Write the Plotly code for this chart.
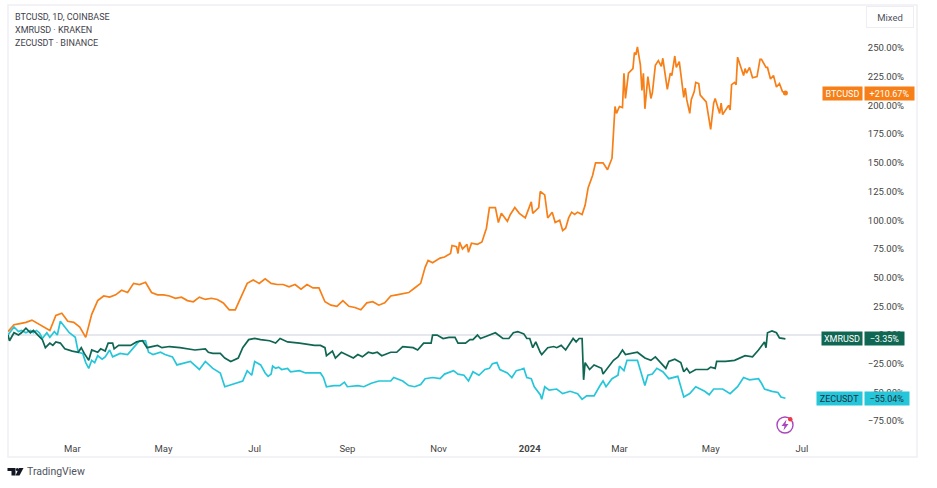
import pandas as pd
import plotly.graph_objects as go

W, H = 937, 488
START = pd.Timestamp("2023-01-17")

btc_days = list(range(0, 280, 4)) + [279,281,284,289,292,296,297,300,301,302,304,307,308,310,314,317,320,322,326,328,330,334,336,339,342,346,350,351,355,356,359,361,364,366,369,371,373,375,377,379,381,384,386,388,391,393,398,401,404,406,407,409,411,412,413,415,418,419,420,421,423,424,425,426,428,430,431,433,435,437,438,441,443,444,446,447,449,452,453,454,456,457,459,460,462,463,467,468,470,472,473,476,477,478,482,483,484,486,487,488,492,493,494,496,498,501,503,504,507,508,510,512,514,516,518,520]
btc_vals = [3,9,10,11,13,10,7,4,17,19,12,11,7,-2,18,30,34,33,35,39,37,45,44,46,37,35,35,34,32,33,30,29,33,31,32,31,28,22,22,34,45,48,45,49,45,44,44,42,44,40,44,41,41,29,26,25,30,25,24,22,28,29,26,28,34,35,36,37,41,45,
59,65,63,67,68,71,78,77,71,81,75,79,72,80,79,81,93,111,111,98,106,99,105,111,106,102,116,106,111,125,122,102,107,98,100,91,93,102,107,105,107,105,113,128,139,150,150,144,154,199,193,199,198,228,206,228,232,246,244,251,235,213,228,197,225,206,211,235,239,234,241,214,228,226,243,233,238,207,215,205,193,205,212,220,219,209,203,196,179,202,206,193,202,192,200,196,218,220,218,242,226,232,228,233,224,225,240,240,233,233,223,226,216,219,212,210.67]

xmr_days = [0,1,4,7,9,12,15,17,20,23,25,28,30,32,35,38,43,47,49,51,54,56,60,62,65,67,70,71,74,78,82,86,90,93,96,100,103,108,115,125,132,134,137,142,145,149,154,157,161,165,169,175,179,182,187,195,205,209,212,213,217,219,223,229,231,234,237,241,244,247,250,256,260,264,271,274,278,283,284,287,291,295,299,301,306,309,311,314,316,320,326,331,335,338,341,343,345,347,349,351,353,356,357,361,365,367,370,373,376,378,380,382,384,385,386,389,392,397,398,401,405,408,411,413,417,421,426,430,433,436,440,442,446,450,452,454,456,460,465,468,470,473,474,480,486,493,498,502,506,507,508,511,514,516,520]
xmr_vals = [0,-5,2,0,2,6,2,4,0,-4,-11,-7,-9,-6,-7,-12,-14,-15,-11,-16,-22,-13,-15,-12,-14,-7,-7,-12,-9,-9,-9,-6,-5,-11,-10,-9,-11,-10,-11,-13,-12,-15,-16,-16,-20,-23,-20,-11,-4,-3,-4,-5,-7,-3,-6,-7,-9,-9,-11,-18,-14,-20,-15,-19,-20,-17,-19,-15,-16,-15,-18,-15,-15,-10,-11,-13,-7,-7,0,0,-3,-2,-2,-7,-7,-4,-4,0,-3,-1,2,-3,-3,2,3,2,1,-3,-3,-11,-6,-15,-17,-11,-10,-11,-9,-13,-7,-3,-6,-3,-3,-39,-24,-30,-26,-29,-34,-29,-22,-19,-13,-17,-16,-15,-20,-22,-19,-23,-29,-23,-21,-24,-32,-29,-33,-30,-30,-30,-28,-29,-23,-23,-22,-18,-19,-13,-6,-11,2,3.5,2,-2.5,-3.35]

zec_days = [0,4,7,9,12,15,17,19,21,23,26,28,31,33,35,38,41,45,47,50,52,54,56,58,60,63,65,68,70,75,80,84,88,92,94,97,102,105,110,113,122,128,132,137,142,145,152,157,160,163,165,169,172,174,176,177,179,181,183,187,189,195,199,209,211,213,218,222,225,227,234,238,243,248,256,258,264,268,272,276,279,284,289,292,298,301,305,308,311,315,319,322,324,327,329,334,337,340,343,345,347,350,352,356,357,359,362,367,371,376,381,384,387,392,396,398,400,404,408,409,412,414,421,425,426,428,431,434,438,442,448,452,456,460,466,469,472,478,483,488,492,496,502,504,506,511,515,517,520]
zec_vals = [0,7,3,4,2,4,2,4,2,-3,2,-2,3,0,12,7,2,-2,-15,-16,-24,-29,-22,-24,-18,-21,-19,-13,-19,-16,-17,-11,-5,-5,-15,-17,-15,-17,-19,-26,-23,-30,-23,-29,-33,-45,-42,-40,-31,-35,-23,-26,-33,-36,-34,-27,-29,-28,-30,-29,-32,-31,-33,-33,-37,-45,-44,-44,-41,-45,-44,-45,-42,-40,-40,-37,-40,-44,-45,-43,-38,-37,-38,-34,-31,-34,-35,-40,-32,-35,-30,-29,-25,-24,-30,-33,-37,-31,-30,-29,-37,-38,-45,-52,-56,-45,-48,-47,-51,-49,-51,-56,-53,-53,-44,-40,-45,-38,-35,-27,-31,-22,-22,-38,-44,-35,-34,-29,-32,-38,-36,-54,-51,-45,-49,-52,-47,-47,-51,-45,-37,-39,-38,-42,-47,-49,-50,-54,-55.04]

y_ticks = [250,225,200,175,150,125,100,75,50,25,0,-25,-50,-75]
y_labels = ["250.00%","225.00%","200.00%","175.00%","150.00%","125.00%","100.00%","75.00%","50.00%","25.00%","0.00%","\u221225.00%","\u221250.00%","\u221275.00%"]
x_ticks = ["2023-03-01","2023-05-01","2023-07-01","2023-09-01","2023-11-01","2024-01-01","2024-03-01","2024-05-01","2024-07-01"]
x_labels = ["Mar","May","Jul","Sep","Nov","<b>2024</b>","Mar","May","Jul"]
legend_lines = ["BTCUSD, 1D, COINBASE","XMRUSD \u00b7 KRAKEN","ZECUSDT \u00b7 BINANCE"]

BTC, XMR, ZEC = "#f77f17", "#0f6652", "#26c6da"
FONT = "Roboto"
TXT = "#50535e"

def dates(d):
    return START + pd.to_timedelta(d, unit="D")
def px(x): return x / W
def py(y): return 1 - y / H

fig = go.Figure()
for name, d, v, c in [("BTCUSD", btc_days, btc_vals, BTC), ("ZECUSDT", zec_days, zec_vals, ZEC), ("XMRUSD", xmr_days, xmr_vals, XMR)]:
    fig.add_trace(go.Scatter(x=dates(d), y=v, mode="lines", name=name, line=dict(color=c, width=1.7), hoverinfo="skip"))
fig.add_trace(go.Scatter(x=dates(btc_days[-1:]), y=btc_vals[-1:], mode="markers", marker=dict(color=BTC, size=5), hoverinfo="skip"))

shapes = []
def paper_path(path, fill=None, line=None, width=0):
    shapes.append(dict(type="path", xref="paper", yref="paper", path=path, fillcolor=fill,
                       line=dict(color=line or "rgba(0,0,0,0)", width=width), layer="above"))
def poly(pts):
    return "M" + " L".join(f"{px(x):.5f},{py(y):.5f}" for x, y in pts) + " Z"

# frame
shapes.append(dict(type="rect", xref="paper", yref="paper", x0=px(8), x1=px(917), y0=py(457), y1=py(5),
                   line=dict(color="#eeeef5", width=1.5), layer="below"))
# zero line
shapes.append(dict(type="line", xref="x", yref="y", x0=dates([0])[0], x1=dates([545])[0], y0=0, y1=0,
                   line=dict(color="#dfe0e7", width=1.5), layer="below"))
# lightning badge
shapes.append(dict(type="circle", xref="paper", yref="paper", x0=px(777), x1=px(793), y0=py(433), y1=py(417),
                   line=dict(color="#ab47bc", width=1.4), layer="above"))
paper_path(poly([(786.5,419.5),(781.5,426),(784.5,426),(783.5,430.5),(788.5,424),(785.5,424)]), fill="#ab47bc")
shapes.append(dict(type="circle", xref="paper", yref="paper", x0=px(788), x1=px(792.5), y0=py(421.5), y1=py(417),
                   fillcolor="#f23645", line=dict(width=0), layer="above"))
# TradingView logo
paper_path(poly([(7.5,468),(15.5,468),(15.5,475.5),(11.5,475.5),(11.5,471),(7.5,471)]), fill="#131722")
shapes.append(dict(type="circle", xref="paper", yref="paper", x0=px(15.8), x1=px(18.8), y0=py(471), y1=py(468),
                   fillcolor="#131722", line=dict(width=0), layer="above"))
paper_path(poly([(19,468),(23.5,468),(19.5,475.5),(15.5,475.5)]), fill="#131722")

ann = []
for i, t in enumerate(legend_lines):
    ann.append(dict(text=t, xref="paper", yref="paper", x=px(12.5), y=py(16.5 + 13.3 * i), xanchor="left", yanchor="middle",
                    showarrow=False, font=dict(family=FONT, size=9, color="#3f424c")))
ann.append(dict(text="TradingView", xref="paper", yref="paper", x=px(24.5), y=py(471.5), xanchor="left", yanchor="middle",
                showarrow=False, font=dict(family=FONT, size=10.5, color="#50535e")))
ann.append(dict(text="Mixed", xref="paper", yref="paper", x=px(890), y=py(17), xanchor="center", yanchor="middle",
                width=44, height=18, bordercolor="#eeeef2", borderwidth=1, showarrow=False, font=dict(family=FONT, size=9.5, color="#50535e")))
for name, value, y, c, tc, w1, w2 in [
    ("BTCUSD", "+210.67%", btc_vals[-1], BTC, "white", 39, 49),
    ("XMRUSD", "\u22123.35%", xmr_vals[-1], XMR, "white", 40, 39),
    ("ZECUSDT", "\u221255.04%", zec_vals[-1], ZEC, "#1f3140", 45, 44),
]:
    ann.append(dict(text=name, xref="paper", yref="y", x=px(862.5), y=y, xanchor="right", yanchor="middle", width=w1, height=13,
                    bgcolor=c, borderpad=0, showarrow=False, font=dict(family=FONT, size=9, color=tc)))
    ann.append(dict(text=value, xref="paper", yref="y", x=px(863.5), y=y, xanchor="left", yanchor="middle", width=w2, height=13,
                    bgcolor=c, borderpad=0, showarrow=False, font=dict(family=FONT, size=9, color=tc)))

fig.update_layout(
    width=W, height=H, margin=dict(l=0, r=0, t=0, b=0), autosize=False,
    paper_bgcolor="white", plot_bgcolor="white", showlegend=False,
    font=dict(family=FONT, size=9.5, color=TXT),
    shapes=shapes, annotations=ann,
    xaxis=dict(domain=[px(8), px(917)], type="date", range=[dates([0])[0], dates([608])[0]],
               tickmode="array", tickvals=x_ticks, ticktext=x_labels, showgrid=False, zeroline=False, showline=False,
               ticks="", ticklabelposition="inside", side="bottom", anchor="y", tickfont=dict(size=9.5)),
    yaxis=dict(domain=[py(457), py(5)], range=[-106.2, 287.4], tickmode="array", tickvals=y_ticks, ticktext=y_labels,
               showgrid=False, zeroline=False, showline=False, ticks="", side="right", ticklabelposition="inside",
               anchor="x", ticklabelstandoff=10, tickfont=dict(size=9.5)),
)
fig.write_html("out.html", post_script="document.body.style.margin='0';document.documentElement.style.overflow='hidden';window.dispatchEvent(new Event('resize'));", config=dict(displayModeBar=False))
